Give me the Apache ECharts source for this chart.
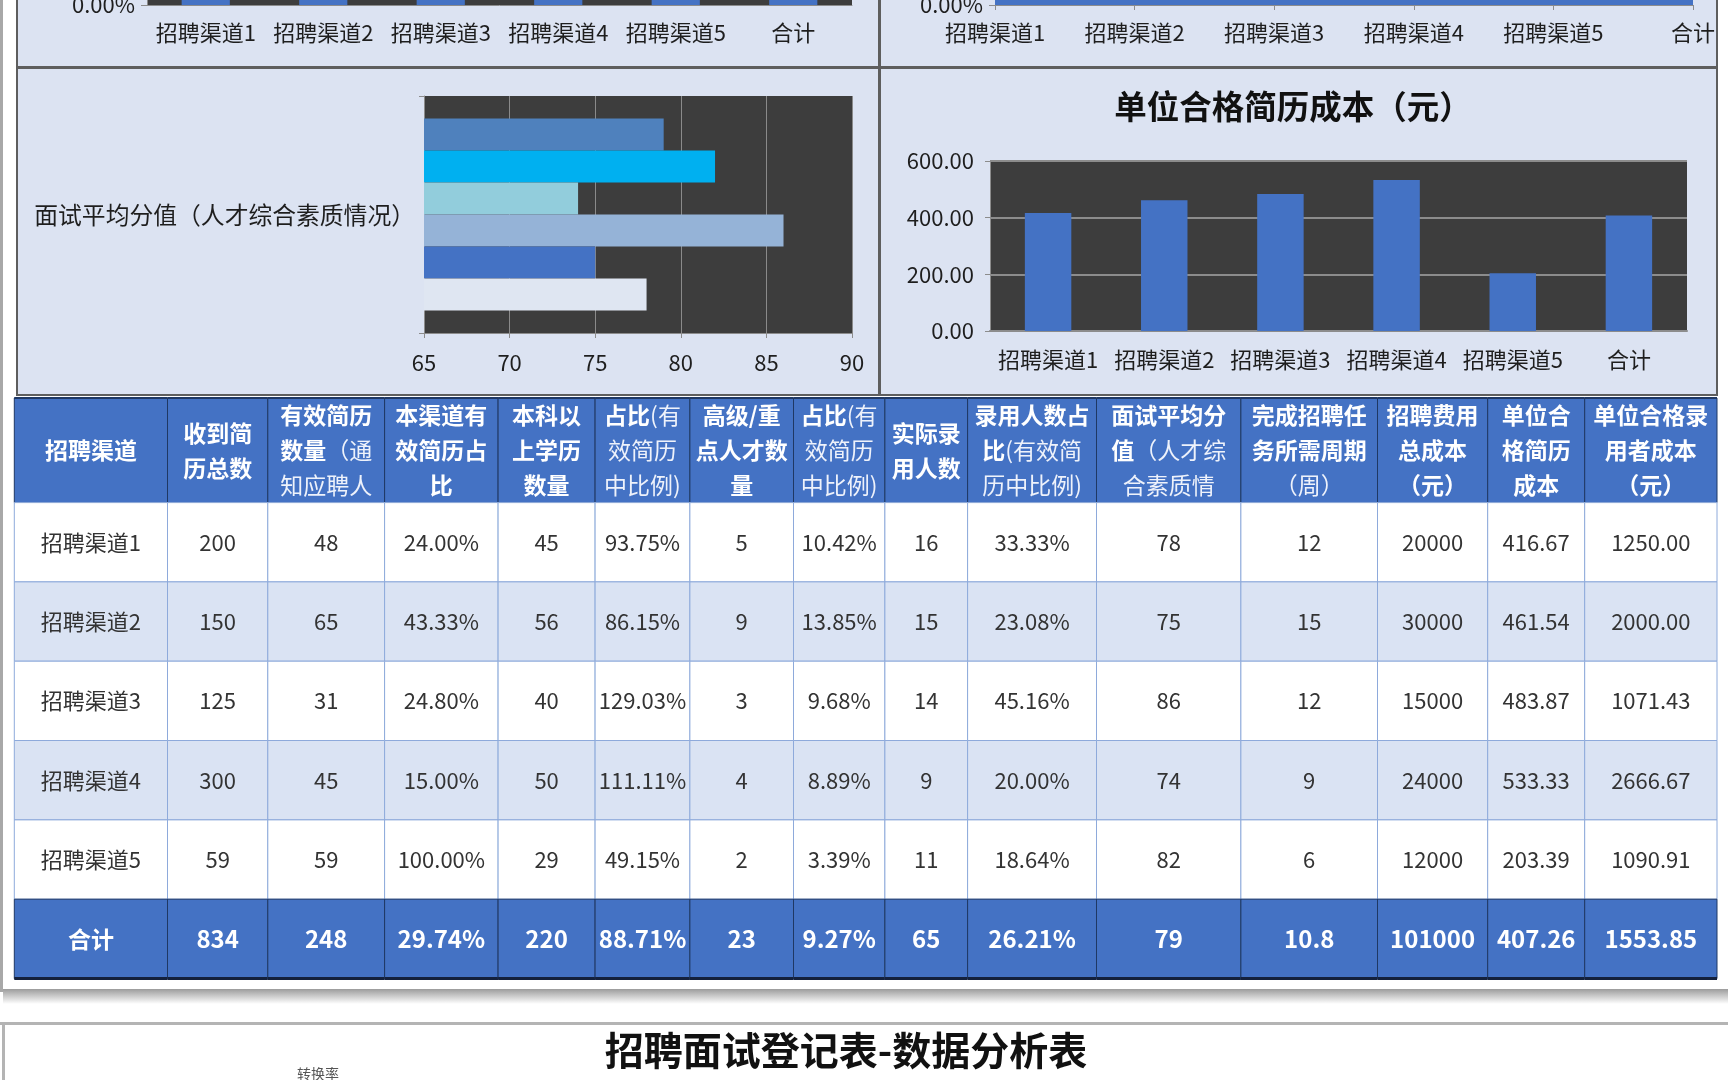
<!DOCTYPE html>
<html><head><meta charset="utf-8">
<script src="https://cdn.jsdelivr.net/npm/echarts@6/dist/echarts.min.js"></script>
<style>html,body{margin:0;padding:0;background:#fff}#c{width:1728px;height:1080px}</style>
</head><body><div id="c"></div>
<script>
// ---------- DATA ----------
const channels = ['招聘渠道1','招聘渠道2','招聘渠道3','招聘渠道4','招聘渠道5','合计'];
const received = [200,150,125,300,59,834];
const validResumes = [48,65,31,45,59,248];
const validRatio = [24.00,43.33,24.80,15.00,100.00,29.74];
const bachelorPlus = [45,56,40,50,29,220];
const bachelorRatio = [93.75,86.15,129.03,111.11,49.15,88.71];
const seniorTalent = [5,9,3,4,2,23];
const seniorRatio = [10.42,13.85,9.68,8.89,3.39,9.27];
const hired = [16,15,14,9,11,65];
const hiredRatio = [33.33,23.08,45.16,20.00,18.64,26.21];
const interviewScore = [78,75,86,74,82,79];
const cycleWeeks = [12,15,12,9,6,10.8];
const totalCost = [20000,30000,15000,24000,12000,101000];
const costPerResume = [416.67,461.54,483.87,533.33,203.39,407.26];
const costPerHire = [1250.00,2000.00,1071.43,2666.67,1090.91,1553.85];
const scoreCategory = ['面试平均分值（人才综合素质情况）'];
const costTicks = [0,200,400,600];
const scoreTicks = [65,70,75,80,85,90];
const headerLabels = [
 '{b|招聘渠道}',
 '{b|收到简}\n{b|历总数}',
 '{b|有效简历}\n{b|数量}{l|（通}\n{l|知应聘人}',
 '{b|本渠道有}\n{b|效简历占}\n{b|比}',
 '{b|本科以}\n{b|上学历}\n{b|数量}',
 '{b|占比}{l|(有}\n{l|效简历}\n{l|中比例)}',
 '{b|高级/重}\n{b|点人才数}\n{b|量}',
 '{b|占比}{l|(有}\n{l|效简历}\n{l|中比例)}',
 '{b|实际录}\n{b|用人数}',
 '{b|录用人数占}\n{b|比}{l|(有效简}\n{l|历中比例)}',
 '{b|面试平均分}\n{b|值}{l|（人才综}\n{l|合素质情}',
 '{b|完成招聘任}\n{b|务所需周期}\n{l|（周）}',
 '{b|招聘费用}\n{b|总成本}\n{b|（元）}',
 '{b|单位合}\n{b|格简历}\n{b|成本}',
 '{b|单位合格录}\n{b|用者成本}\n{b|（元）}'
];
const chartTitle = '单位合格简历成本（元）';
const pageTitle = '招聘面试登记表-数据分析表';
const smallNote = '转换率';

// ---------- LAYOUT (not data) ----------
const FONT = '"Noto Sans CJK SC","Noto Sans",sans-serif';
const colWidths = [153.2,100.3,116.8,113.5,97,94.8,103.6,91.4,82.7,128.9,144.4,136.6,110.2,97,132.3];
const rowHeights = [104.6,79.3,79.3,79.3,79.4,79.3,79.4];
const colEdges = [0]; colWidths.forEach(w => colEdges.push(colEdges[colEdges.length-1] + w));
const rowEdges = [0]; rowHeights.forEach(h => rowEdges.push(rowEdges[rowEdges.length-1] + h));
const tableW = colEdges[colEdges.length-1], tableH = rowEdges[rowEdges.length-1];

const pct = v => v.toFixed(2) + '%';
function rowCells(i){
  return [channels[i], String(received[i]), String(validResumes[i]), pct(validRatio[i]), String(bachelorPlus[i]),
    pct(bachelorRatio[i]), String(seniorTalent[i]), pct(seniorRatio[i]), String(hired[i]), pct(hiredRatio[i]),
    String(interviewScore[i]), String(cycleWeeks[i]), String(totalCost[i]), costPerResume[i].toFixed(2), costPerHire[i].toFixed(2)];
}
const tableData = [];
for (let r = 0; r < rowHeights.length; r++) for (let c = 0; c < colWidths.length; c++) tableData.push([c, r]);

const BLUE = '#4472c4';
const DARK = '#3d3d3d';
const AXIS = '#8c8c8c';
const LAV = '#dce3f2';
const labelBase = {fontFamily: FONT, color: '#1e1e1e', fontSize: 22};

const scoreColors = ['#dfe6f2','#4472c4','#95b3d7','#92cddc','#00b0f0','#4f81bd'];
const gridCommon = {outerBoundsMode:'none', containLabel:false};

const chart = echarts.init(document.getElementById('c'));
const option = {
  backgroundColor: '#ffffff',
  animation: false,
  graphic: [
    {type:'rect', z:-20, shape:{x:0,y:0,width:3,height:992}, style:{fill:'#a8a8a8'}},
    {type:'rect', z:-20, shape:{x:3,y:989,width:1725,height:15}, style:{fill:{type:'linear',x:0,y:0,x2:0,y2:1,colorStops:[{offset:0,color:'#9c9c9c'},{offset:1,color:'#ffffff'}]}}},
    {type:'rect', z:-20, shape:{x:0,y:1022,width:1728,height:3}, style:{fill:'#b4b4b4'}},
    {type:'rect', z:-20, shape:{x:2,y:1022,width:3,height:60}, style:{fill:'#b4b4b4'}},
    {type:'rect', z:-10, shape:{x:17,y:-10,width:862,height:77}, style:{fill:LAV, stroke:'#5e5e5e', lineWidth:2}},
    {type:'rect', z:-10, shape:{x:880,y:-10,width:837,height:77}, style:{fill:LAV, stroke:'#5e5e5e', lineWidth:2}},
    {type:'rect', z:-10, shape:{x:17,y:68,width:862,height:327}, style:{fill:LAV, stroke:'#5e5e5e', lineWidth:2}},
    {type:'rect', z:-10, shape:{x:880,y:68,width:837,height:327}, style:{fill:LAV, stroke:'#5e5e5e', lineWidth:2}},
    {type:'text', z:10, x:1293, y:107, style:{text:chartTitle, fontSize:32.5, fontWeight:'bold', fontFamily:FONT, fill:'#111', align:'center', verticalAlign:'middle'}},
    {type:'text', z:10, x:846, y:1050, style:{text:pageTitle, fontSize:39, fontWeight:'bold', fontFamily:FONT, fill:'#111', align:'center', verticalAlign:'middle'}},
    {type:'text', z:10, x:318, y:1074, style:{text:smallNote, fontSize:14, fontFamily:FONT, fill:'#555', align:'center', verticalAlign:'middle'}}
  ],
  grid: [
    {...gridCommon, left:147, width:705, top:-295, height:300, show:true, backgroundColor:DARK, borderWidth:0},
    {...gridCommon, left:995, width:698, top:-295, height:300, show:false},
    {...gridCommon, left:424, width:428, top:96, height:237, show:true, backgroundColor:DARK, borderWidth:0},
    {...gridCommon, left:990, width:697, top:161, height:170, show:true, backgroundColor:DARK, borderWidth:0},
    {...gridCommon, left:14.3, width:tableW, top:398, height:tableH, show:false}
  ],
  xAxis: [
    {type:'category', gridIndex:0, data:channels, axisLine:{lineStyle:{color:AXIS}}, axisTick:{length:5, lineStyle:{color:AXIS}}, axisLabel:{...labelBase, margin:17, interval:0, hideOverlap:false}},
    {type:'category', gridIndex:1, data:channels, boundaryGap:false, axisLine:{lineStyle:{color:AXIS}}, axisTick:{length:5, lineStyle:{color:AXIS}}, axisLabel:{...labelBase, margin:17, interval:0, hideOverlap:false}},
    {type:'value', gridIndex:2, min:scoreTicks[0], max:scoreTicks[scoreTicks.length-1], interval:scoreTicks[1]-scoreTicks[0],
      axisLine:{show:true, lineStyle:{color:AXIS}}, axisTick:{show:true, length:5, lineStyle:{color:AXIS}},
      splitLine:{show:true, lineStyle:{color:'#8a8a8a', width:1}}, axisLabel:{...labelBase, margin:19}},
    {type:'category', gridIndex:3, data:channels, axisLine:{lineStyle:{color:AXIS, width:2}}, axisTick:{length:6, lineStyle:{color:AXIS, width:2}}, axisLabel:{...labelBase, margin:18, interval:0, hideOverlap:false}},
    {type:'value', gridIndex:4, min:0, max:tableW, show:false}
  ],
  yAxis: [
    {type:'value', gridIndex:0, min:0, max:1.2, interval:0.2, axisLine:{show:true, lineStyle:{color:AXIS}}, axisTick:{show:true, length:6, lineStyle:{color:AXIS}}, splitLine:{show:false},
      axisLabel:{...labelBase, margin:12, formatter:v => (v*100).toFixed(2) + '%'}},
    {type:'value', gridIndex:1, min:0, max:0.5, interval:0.1, axisLine:{show:true, lineStyle:{color:AXIS}}, axisTick:{show:true, length:6, lineStyle:{color:AXIS}}, splitLine:{show:false},
      axisLabel:{...labelBase, margin:12, formatter:v => (v*100).toFixed(2) + '%'}},
    {type:'category', gridIndex:2, data:scoreCategory, axisLine:{show:true, lineStyle:{color:AXIS}}, axisTick:{show:true, length:5, lineStyle:{color:AXIS}}, axisLabel:{...labelBase, fontSize:23.8, margin:9}},
    {type:'value', gridIndex:3, min:costTicks[0], max:costTicks[costTicks.length-1], interval:costTicks[1]-costTicks[0],
      axisLine:{show:true, lineStyle:{color:AXIS}}, axisTick:{show:true, length:5, lineStyle:{color:AXIS}},
      splitLine:{show:true, lineStyle:{color:'#8c8c8c', width:2}}, axisLabel:{...labelBase, margin:16, formatter:v => v.toFixed(2)}},
    {type:'value', gridIndex:4, min:0, max:tableH, inverse:true, show:false}
  ],
  series: [
    {type:'bar', xAxisIndex:0, yAxisIndex:0, data:validRatio.map(v => v/100), barWidth:'41%', itemStyle:{color:BLUE}},
    {type:'line', xAxisIndex:1, yAxisIndex:1, data:hiredRatio.map(v => v/100), symbol:'none', lineStyle:{color:BLUE, width:3}, areaStyle:{color:BLUE, opacity:1}},
    // horizontal bars: ECharts places first series at top, Excel puts first series at bottom -> reverse order
    ...channels.map((name, i) => i).reverse().map(i => ({type:'bar', name:channels[i], xAxisIndex:2, yAxisIndex:2, data:[interviewScore[i]], barGap:'0%', barCategoryGap:'19%', itemStyle:{color:scoreColors[i]}})),
    {type:'bar', xAxisIndex:3, yAxisIndex:3, data:costPerResume, barWidth:'40%', itemStyle:{color:BLUE}},
    {type:'custom', xAxisIndex:4, yAxisIndex:4, data:tableData, clip:false, silent:true,
      renderItem: function(params, api){
        const c = api.value(0), r = api.value(1);
        const p0 = api.coord([colEdges[c], rowEdges[r]]);
        const p1 = api.coord([colEdges[c+1], rowEdges[r+1]]);
        const x = p0[0], y = p0[1], w = p1[0]-p0[0], h = p1[1]-p0[1];
        const isHead = r === 0, isTotal = r === rowHeights.length-1;
        let fill, stroke, textStyle;
        if (isHead) {
          fill = BLUE; stroke = '#1f3864';
          textStyle = {text: headerLabels[c], fill:'#fff', fontSize:23, fontFamily:FONT, lineHeight:35,
            rich:{b:{fill:'#ffffff', fontSize:23, fontWeight:'bold', fontFamily:FONT, lineHeight:35},
                  l:{fill:'#eef2fb', fontSize:23, fontWeight:'normal', fontFamily:FONT, lineHeight:35}}};
        } else if (isTotal) {
          fill = BLUE; stroke = '#1f3864';
          textStyle = {text: rowCells(r-1)[c], fill:'#ffffff', fontSize:c===0?23:24, fontWeight:'bold', fontFamily:FONT};
        } else {
          fill = (r % 2 === 0) ? '#dae3f3' : '#ffffff'; stroke = '#8eaadb';
          textStyle = {text: rowCells(r-1)[c], fill:'#333333', fontSize:22, fontFamily:FONT};
        }
        textStyle.align = 'center'; textStyle.verticalAlign = 'middle';
        const children = [
          {type:'rect', shape:{x, y, width:w, height:h}, style:{fill, stroke, lineWidth:1}},
          {type:'text', x:x + w/2, y:y + h/2, style:textStyle}
        ];
        if (isTotal) children.push({type:'line', shape:{x1:x, y1:y+h, x2:x+w, y2:y+h}, style:{stroke:'#14213d', lineWidth:3}});
        if (isHead) children.push({type:'line', shape:{x1:x, y1:y, x2:x+w, y2:y}, style:{stroke:'#1f3864', lineWidth:2}});
        return {type:'group', children};
      }
    }
  ]
};
chart.setOption(option);
</script>
</body></html>
